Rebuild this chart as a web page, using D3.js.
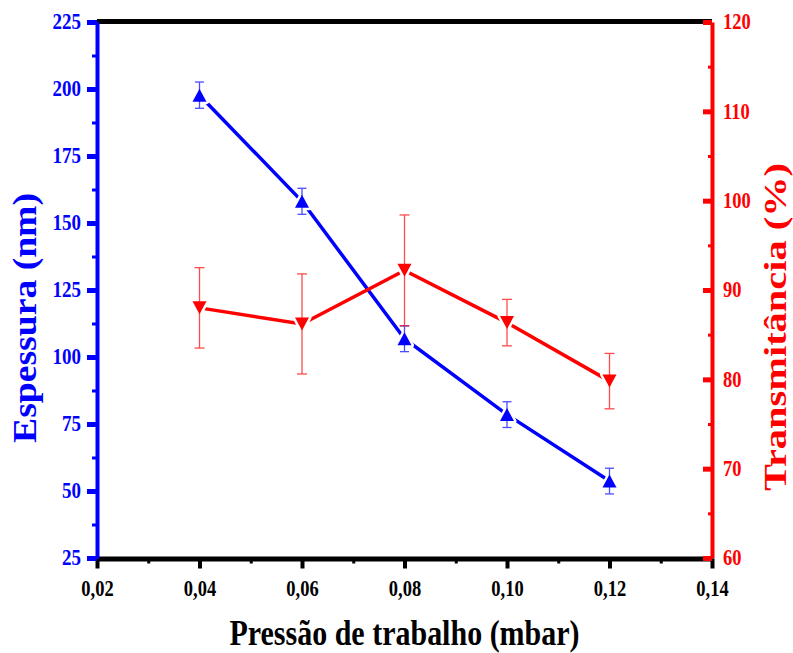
<!DOCTYPE html>
<html>
<head>
<meta charset="utf-8">
<script src="https://cdn.jsdelivr.net/npm/d3@7"></script>
<style>
  html, body { margin: 0; padding: 0; background: #fff; }
  svg { display: block; }
</style>
</head>
<body>
<script>
// ---- data ----
const pressao = [0.04, 0.06, 0.08, 0.10, 0.12];
const espessura = [197.7, 158.1, 106.8, 78.5, 53.7];
const espessuraErr = [4.9, 4.85, 4.8, 4.8, 4.8];
const transmitancia = [88.0, 86.2, 92.2, 86.35, 79.8];
const transmitanciaErr = [4.5, 5.6, 6.2, 2.6, 3.1];

const xTicks = [0.02, 0.04, 0.06, 0.08, 0.10, 0.12, 0.14];
const xTickLabels = ["0,02", "0,04", "0,06", "0,08", "0,10", "0,12", "0,14"];
const xMinorTicks = [0.03, 0.05, 0.07, 0.09, 0.11, 0.13];
const yLeftTicks = [25, 50, 75, 100, 125, 150, 175, 200, 225];
const yLeftMinor = [37.5, 62.5, 87.5, 112.5, 137.5, 162.5, 187.5, 212.5];
const yRightTicks = [60, 70, 80, 90, 100, 110, 120];
const yRightMinor = [65, 75, 85, 95, 105, 115];

const xTitle = "Pressão de trabalho (mbar)";
const yLeftTitle = "Espessura (nm)";
const yRightTitle = "Transmitância (%)";

// ---- layout ----
const W = 793, H = 653;
const L = 97, R = 712, T = 22, B = 558;
const BLUE = "#0000FF", RED = "#FF0000";
const SY = 1.2; // vertical text stretch
const FONT = "'Liberation Serif', Tinos, 'Times New Roman', 'DejaVu Serif', serif";

const svg = d3.select("body").append("svg").attr("width", W).attr("height", H);

const x = d3.scaleLinear().domain([0.02, 0.14]).range([L, R]);
const yL = d3.scaleLinear().domain([25, 225]).range([B, T]);
const yR = d3.scaleLinear().domain([60, 120]).range([B, T]);

// top frame line
svg.append("line").attr("x1", L).attr("x2", R).attr("y1", T - 0.5).attr("y2", T - 0.5)
  .attr("stroke", "#000").attr("stroke-width", 5);

// bottom axis
const gx = svg.append("g").attr("transform", `translate(0,${B + 0.5})`)
  .call(d3.axisBottom(x).tickValues(xTicks).tickFormat((d, i) => xTickLabels[i])
    .tickSizeOuter(0).tickSizeInner(10).tickPadding(8));
gx.select(".domain").attr("stroke", "#000").attr("stroke-width", 5);
gx.selectAll(".tick line").attr("stroke", "#000").attr("stroke-width", 4);
gx.selectAll(".tick text").attr("fill", "#000")
  .style("font-family", FONT).style("font-weight", "bold").style("font-size", "18.5px")
  .attr("transform", `scale(1,${SY})`).attr("dy", "0.72em");
const gxm = svg.append("g").attr("transform", `translate(0,${B + 0.5})`)
  .call(d3.axisBottom(x).tickValues(xMinorTicks).tickFormat("").tickSizeOuter(0).tickSizeInner(5));
gxm.select(".domain").remove();
gxm.selectAll(".tick line").attr("stroke", "#000").attr("stroke-width", 3);

// left axis
const gl = svg.append("g").attr("transform", `translate(${L},0)`)
  .call(d3.axisLeft(yL).tickValues(yLeftTicks).tickSizeOuter(0).tickSizeInner(10).tickPadding(6));
gl.select(".domain").attr("stroke", BLUE).attr("stroke-width", 4);
gl.selectAll(".tick line").attr("stroke", BLUE).attr("stroke-width", 5);
gl.selectAll(".tick text").attr("fill", BLUE)
  .style("font-family", FONT).style("font-weight", "bold").style("font-size", "19px")
  .attr("transform", `scale(1,${SY})`).attr("dy", "0.30em");
const glm = svg.append("g").attr("transform", `translate(${L},0)`)
  .call(d3.axisLeft(yL).tickValues(yLeftMinor).tickFormat("").tickSizeOuter(0).tickSizeInner(5));
glm.select(".domain").remove();
glm.selectAll(".tick line").attr("stroke", BLUE).attr("stroke-width", 3);

// right axis (ticks inward)
const gr = svg.append("g").attr("transform", `translate(${R},0)`)
  .call(d3.axisRight(yR).tickValues(yRightTicks).tickSizeOuter(0).tickSizeInner(-9).tickPadding(11));
gr.select(".domain").attr("stroke", RED).attr("stroke-width", 4);
gr.selectAll(".tick line").attr("stroke", RED).attr("stroke-width", 5);
gr.selectAll(".tick text").attr("fill", RED)
  .style("font-family", FONT).style("font-weight", "bold").style("font-size", "18.5px")
  .attr("transform", `scale(1,${SY})`).attr("dy", "0.30em");
const grm = svg.append("g").attr("transform", `translate(${R},0)`)
  .call(d3.axisRight(yR).tickValues(yRightMinor).tickFormat("").tickSizeOuter(0).tickSizeInner(-4));
grm.select(".domain").remove();
grm.selectAll(".tick line").attr("stroke", RED).attr("stroke-width", 3);

// ---- series ----
const blueData = pressao.map((p, i) => ({ x: p, y: espessura[i], e: espessuraErr[i] }));
const redData = pressao.map((p, i) => ({ x: p, y: transmitancia[i], e: transmitanciaErr[i] }));

const lineL = d3.line().x(d => x(d.x)).y(d => yL(d.y));
const lineR = d3.line().x(d => x(d.x)).y(d => yR(d.y));

svg.append("path").datum(blueData).attr("d", lineL).attr("fill", "none")
  .attr("stroke", BLUE).attr("stroke-width", 3.5);
svg.append("path").datum(redData).attr("d", lineR).attr("fill", "none")
  .attr("stroke", RED).attr("stroke-width", 3.5);

function errorBars(data, ys, color, cap) {
  const g = svg.append("g").attr("stroke", color).attr("stroke-width", 1.3).attr("opacity", 0.7);
  data.forEach(d => {
    const cx = x(d.x), t = ys(d.y + d.e), b = ys(d.y - d.e);
    g.append("line").attr("x1", cx).attr("x2", cx).attr("y1", t).attr("y2", b);
    g.append("line").attr("x1", cx - cap).attr("x2", cx + cap).attr("y1", t).attr("y2", t);
    g.append("line").attr("x1", cx - cap).attr("x2", cx + cap).attr("y1", b).attr("y2", b);
  });
}

const upTri = "M0,-6.5L7,6.5L-7,6.5Z";
const downTri = "M0,6.5L7,-6.5L-7,-6.5Z";

function halos(data, ys, shape) {
  svg.append("g").selectAll("path").data(data).join("path")
    .attr("transform", d => `translate(${x(d.x)},${ys(d.y)})`)
    .attr("d", shape).attr("fill", "#fff").attr("stroke", "#fff").attr("stroke-width", 5)
    .attr("stroke-linejoin", "round");
}
halos(blueData, yL, upTri);
halos(redData, yR, downTri);
errorBars(blueData, yL, BLUE, 4.5);
errorBars(redData, yR, RED, 5);
svg.append("g").selectAll("path").data(blueData).join("path")
  .attr("transform", d => `translate(${x(d.x)},${yL(d.y)})`)
  .attr("d", upTri).attr("fill", BLUE);
svg.append("g").selectAll("path").data(redData).join("path")
  .attr("transform", d => `translate(${x(d.x)},${yR(d.y)})`)
  .attr("d", downTri).attr("fill", RED);

// ---- titles ----
svg.append("text").attr("transform", `translate(${(L + R) / 2},645) scale(1,${SY})`)
  .attr("text-anchor", "middle")
  .style("font-family", FONT).style("font-weight", "bold").style("font-size", "30px")
  .attr("fill", "#000")
  .text(xTitle);

svg.append("text").attr("transform", `translate(36,318) rotate(-90)`)
  .attr("text-anchor", "middle")
  .style("font-family", FONT).style("font-weight", "bold").style("font-size", "33px")
  .attr("fill", BLUE)
  .attr("textLength", 250).attr("lengthAdjust", "spacingAndGlyphs")
  .text(yLeftTitle);

svg.append("text").attr("transform", `translate(786,327) rotate(-90)`)
  .attr("text-anchor", "middle")
  .style("font-family", FONT).style("font-weight", "bold").style("font-size", "31px")
  .attr("fill", RED)
  .attr("textLength", 328).attr("lengthAdjust", "spacingAndGlyphs")
  .text(yRightTitle);
</script>
</body>
</html>
